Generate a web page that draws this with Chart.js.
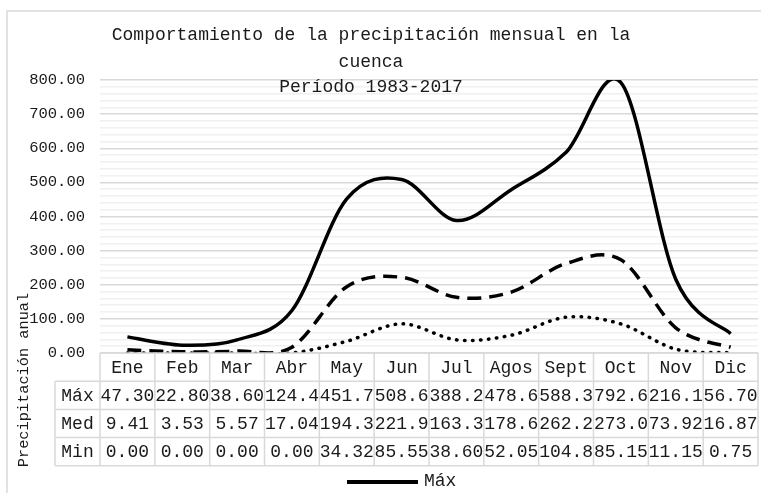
<!DOCTYPE html>
<html>
<head>
<meta charset="utf-8">
<script src="https://cdn.jsdelivr.net/npm/chart.js@4/dist/chart.umd.min.js"></script>
<style>
  html, body { margin: 0; padding: 0; background: #fff; }
  canvas { display: block; }
</style>
</head>
<body>
<canvas id="myChart" width="761" height="493"></canvas>
<script>
// months (table header)
const months = ["Ene", "Feb", "Mar", "Abr", "May", "Jun", "Jul", "Agos", "Sept", "Oct", "Nov", "Dic"];

// monthly precipitation
const maxValues = [47.30, 22.80, 38.60, 124.4, 451.7, 508.6, 388.2, 478.6, 588.3, 792.6, 216.1, 56.70];
const medValues = [9.41, 3.53, 5.57, 17.04, 194.3, 221.9, 163.3, 178.6, 262.2, 273.0, 73.92, 16.87];
const minValues = [0.00, 0.00, 0.00, 0.00, 34.32, 85.55, 38.60, 52.05, 104.8, 85.15, 11.15, 0.75];

const seriesNames = ["Máx", "Med", "Min"];
const titleLines = ["Comportamiento de la precipitación mensual en la", "cuenca", "Período 1983-2017"];
const yTitle = "Precipitación anual";

const FONT = "'Liberation Mono', monospace";
const BORDER = "#d9d9d9";
const TEXT = "#1a1a1a";

// excel-like smoothing (uniform catmull-rom) instead of chart.js distance based one
const smoothPlugin = {
  id: "excelSmooth",
  beforeDatasetDraw(chart, args) {
    const meta = args.meta;
    meta.dataset.updateControlPoints(chart.chartArea, "x");
    const pts = meta.data;
    for (let i = 0; i < pts.length; i++) {
      const p0 = pts[Math.max(i - 1, 0)];
      const p1 = pts[i];
      const p2 = pts[Math.min(i + 1, pts.length - 1)];
      const dx = (p2.x - p0.x) / 6;
      const dy = (p2.y - p0.y) / 6;
      p1.cp1x = p1.x - dx;
      p1.cp1y = p1.y - dy;
      p1.cp2x = p1.x + dx;
      p1.cp2y = p1.y + dy;
    }
  }
};

// title, y title, outer frame
const decorPlugin = {
  id: "decor",
  afterDraw(chart) {
    const c = chart.ctx;
    c.save();
    c.strokeStyle = BORDER;
    c.lineWidth = 1.5;
    c.beginPath();
    c.moveTo(7, 493);
    c.lineTo(7, 11);
    c.lineTo(761, 11);
    c.stroke();

    c.fillStyle = TEXT;
    c.font = "18px " + FONT;
    c.textAlign = "center";
    c.textBaseline = "middle";
    const ty = [35, 62, 87];
    titleLines.forEach((t, i) => c.fillText(t, 371, ty[i]));

    c.translate(24, 380);
    c.rotate(-Math.PI / 2);
    c.font = "15.3px " + FONT;
    c.fillText(yTitle, 0, 0);
    c.restore();
  }
};

// data table under the plot + legend
const tablePlugin = {
  id: "dataTable",
  afterDraw(chart) {
    const c = chart.ctx;
    const x = chart.scales.x;
    const area = chart.chartArea;
    const colW = x.getPixelForValue(1) - x.getPixelForValue(0);
    const rowH = 28.2;
    const top = area.bottom;
    const labelLeft = 55;
    const rows = [maxValues, medValues, minValues];

    c.save();
    c.strokeStyle = BORDER;
    c.lineWidth = 1.5;
    // horizontal lines
    c.beginPath();
    c.moveTo(area.left, top);
    c.lineTo(area.right, top);
    for (let r = 1; r <= rows.length + 1; r++) {
      c.moveTo(labelLeft, top + r * rowH);
      c.lineTo(area.right, top + r * rowH);
    }
    // vertical lines
    for (let i = 0; i <= months.length; i++) {
      const px = x.getPixelForValue(i) - colW / 2;
      c.moveTo(px, top);
      c.lineTo(px, top + (rows.length + 1) * rowH);
    }
    c.moveTo(labelLeft, top + rowH);
    c.lineTo(labelLeft, top + (rows.length + 1) * rowH);
    c.stroke();

    c.fillStyle = TEXT;
    c.font = "18px " + FONT;
    c.textBaseline = "middle";

    const cell = (txt, left, w, cy) => {
      const tw = c.measureText(txt).width;
      c.save();
      c.beginPath();
      c.rect(left, cy - rowH / 2, w, rowH);
      c.clip();
      if (tw <= w) {
        c.textAlign = "center";
        c.fillText(txt, left + w / 2, cy);
      } else {
        c.textAlign = "left";
        c.fillText(txt, left + 0.5, cy);
      }
      c.restore();
    };

    months.forEach((m, i) => {
      cell(m, x.getPixelForValue(i) - colW / 2, colW, top + rowH / 2 + 1);
    });
    rows.forEach((vals, r) => {
      const cy = top + rowH * (r + 1.5) + 1;
      cell(seriesNames[r], labelLeft, area.left - labelLeft, cy);
      vals.forEach((v, i) => {
        cell(v.toFixed(2), x.getPixelForValue(i) - colW / 2, colW, cy);
      });
    });

    // legend (first row visible only)
    const ds = chart.data.datasets[0];
    c.strokeStyle = ds.borderColor;
    c.lineWidth = 4;
    c.beginPath();
    c.moveTo(347, 482);
    c.lineTo(418, 482);
    c.stroke();
    c.textAlign = "left";
    c.fillText(ds.label, 424, 481);
    c.restore();
  }
};

new Chart(document.getElementById("myChart"), {
  type: "line",
  data: {
    labels: months,
    datasets: [
      { label: seriesNames[0], data: maxValues, borderColor: "#000", borderWidth: 3.5, borderDash: [] },
      { label: seriesNames[1], data: medValues, borderColor: "#000", borderWidth: 3.5, borderDash: [14, 8] },
      { label: seriesNames[2], data: minValues, borderColor: "#000", borderWidth: 3.5, borderDash: [0.5, 7.5], borderCapStyle: "round" }
    ]
  },
  options: {
    responsive: false,
    animation: false,
    devicePixelRatio: 1,
    layout: { padding: { left: 0, right: 3, top: 80, bottom: 140 } },
    elements: {
      point: { radius: 0 },
      line: { tension: 0.4, fill: false }
    },
    plugins: {
      legend: { display: false },
      title: { display: false },
      tooltip: { enabled: false }
    },
    scales: {
      x: { display: false, offset: true },
      y: {
        min: 0,
        max: 800,
        afterFit(scale) { scale.width = 100; },
        border: { display: false },
        grid: {
          drawTicks: false,
          lineWidth: 1.5,
          color: (ctx) => (ctx.tick && Math.round(ctx.tick.value) % 100 === 0) ? "#d9d9d9" : "#f0f0f0"
        },
        ticks: {
          stepSize: 20,
          autoSkip: false,
          padding: 15,
          color: TEXT,
          font: { family: FONT, size: 15.5 },
          callback: (v) => Math.round(v) % 100 === 0 ? Number(v).toFixed(2) : ""
        }
      }
    }
  },
  plugins: [smoothPlugin, decorPlugin, tablePlugin]
});
</script>
</body>
</html>
